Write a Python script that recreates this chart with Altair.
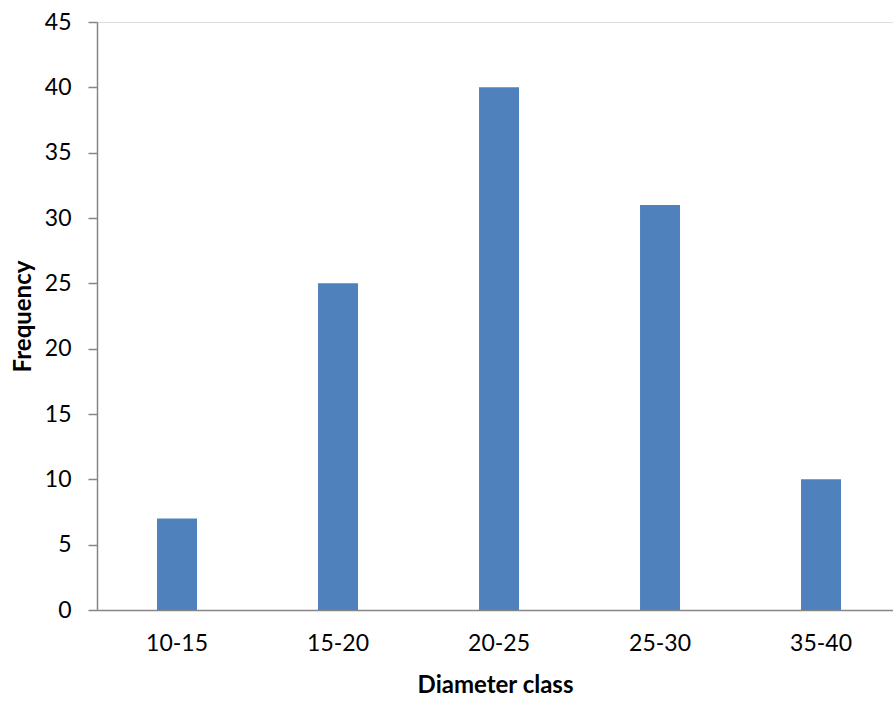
import altair as alt
import pandas as pd

# Diameter class frequencies
classes = ["10-15", "15-20", "20-25", "25-30", "35-40"]
frequency = [7, 25, 40, 31, 10]
y_ticks = [0, 5, 10, 15, 20, 25, 30, 35, 40, 45]

df = pd.DataFrame({"cls": classes, "freq": frequency})

FONT = "Lato"
AXIS_GRAY = "#868686"

chart = (
    alt.Chart(df)
    .mark_bar(color="#4F81BD")
    .encode(
        x=alt.X(
            "cls:N",
            sort=classes,
            scale=alt.Scale(paddingInner=0.7516, paddingOuter=0.3478, align=0.536),
            axis=alt.Axis(
                title="Diameter class",
                labelAngle=0,
                ticks=False,
                labelPadding=22,
                labelFontSize=23,
                labelFont=FONT,
                labelColor="#000000",
                titleFont=FONT,
                titleFontSize=24,
                titleFontWeight="bold",
                titleColor="#000000",
                titleY=75,
                titleBaseline="middle",
                domainColor=AXIS_GRAY,
                domainWidth=1.5,
            ),
        ),
        y=alt.Y(
            "freq:Q",
            scale=alt.Scale(domain=[0, 45], nice=False),
            axis=alt.Axis(
                title="Frequency",
                values=y_ticks,
                grid=False,
                tickSize=9,
                tickColor=AXIS_GRAY,
                tickWidth=1.5,
                labelPadding=17,
                labelFontSize=23,
                labelFont=FONT,
                labelColor="#000000",
                titleFont=FONT,
                titleFontSize=24,
                titleFontWeight="bold",
                titleColor="#000000",
                titleAngle=270,
                titleX=-74,
                titleY=294,
                titleAlign="center",
                titleBaseline="middle",
                domainColor=AXIS_GRAY,
                domainWidth=1.5,
            ),
        ),
    )
    .properties(
        width=796,
        height=588,
        autosize=alt.AutoSizeParams(type="none"),
        padding={"left": 97, "top": 22, "right": 0, "bottom": 92},
    )
    .configure_view(stroke=None)
    .configure(background="#ffffff")
)

chart.save("out.html", embed_options={"renderer": "svg", "actions": False})
